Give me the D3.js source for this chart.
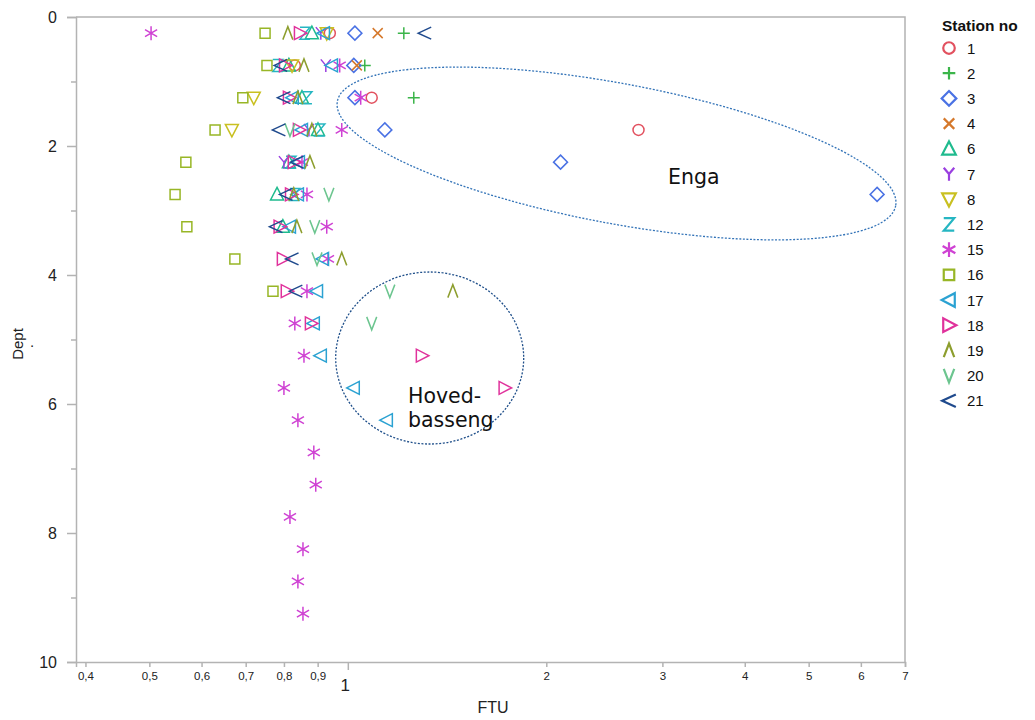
<!DOCTYPE html>
<html>
<head>
<meta charset="utf-8">
<script src="https://cdn.jsdelivr.net/npm/d3@7"></script>
<style>
  body { margin: 0; background: #fff; }
  svg { display: block; }
  .axis path, .axis line { stroke: #b3b3b3; stroke-width: 1.5; }
</style>
</head>
<body>
<svg id="chart" width="1035" height="720"></svg>
<script>
// station numbers, in legend order
var stations = [1, 2, 3, 4, 6, 7, 8, 12, 15, 16, 17, 18, 19, 20, 21]

// [depth, FTU] per station
var st1  = [[0.25,0.939],[0.75,0.831],[1.25,1.087],[1.75,2.76]]
var st2  = [[0.25,1.216],[0.75,1.061],[1.25,1.259]]
var st3  = [[0.25,1.025],[0.75,1.021],[1.25,1.025],[1.75,1.138],[2.25,2.102],[2.75,6.35]]
var st4  = [[0.25,1.11],[0.75,1.032]]
var st6  = [[0.25,0.882],[0.75,0.814],[1.25,0.852],[1.75,0.901],[2.25,0.814],[2.75,0.781],[3.25,0.797]]
var st7  = [[0.25,0.91],[0.75,0.926],[1.75,0.873],[2.25,0.800]]
var st8  = [[0.25,0.929],[0.75,0.823],[1.25,0.720],[1.75,0.667]]
var st12 = [[0.25,0.861],[0.75,0.783],[1.25,0.867],[1.75,0.907],[2.25,0.820],[2.75,0.831]]
var st15 = [[0.25,0.503],[0.75,0.972],[1.25,1.046],[1.75,0.979],[2.25,0.852],[2.75,0.867],[3.25,0.929],
            [3.75,0.933],[4.25,0.867],[4.75,0.831],[5.25,0.858],[5.75,0.800],[6.25,0.840],[6.75,0.888],
            [7.25,0.894],[7.75,0.817],[8.25,0.855],[8.75,0.840],[9.25,0.855]]
var st16 = [[0.25,0.749],[0.75,0.754],[1.25,0.693],[1.75,0.629],[2.25,0.568],[2.75,0.547],[3.25,0.570],[3.75,0.674],[4.25,0.770]]
var st17 = [[0.25,0.92],[0.75,0.946],[1.25,0.825],[1.75,0.852],[2.25,0.843],[2.75,0.840],[3.25,0.817],
            [3.75,0.917],[4.25,0.898],[4.75,0.888],[5.25,0.910],[5.75,1.021],[6.25,1.146]]
var st18 = [[0.25,0.846],[0.75,0.803],[1.25,0.814],[1.75,0.843],[2.25,0.828],[2.75,0.820],[3.25,0.788],
            [3.75,0.797],[4.25,0.808],[4.75,0.879],[5.25,1.295],[5.75,1.729]]
var st19 = [[0.25,0.811],[0.75,0.858],[1.25,0.840],[1.75,0.882],[2.25,0.876],[2.75,0.828],[3.25,0.837],[3.75,0.979],[4.25,1.443]]
var st20 = [[1.75,0.817],[2.75,0.936],[3.25,0.891],[3.75,0.898],[4.25,1.158],[4.75,1.087]]
var st21 = [[0.25,1.308],[0.75,0.791],[1.25,0.800],[1.75,0.786],[2.25,0.837],[2.75,0.806],[3.25,0.778],[3.75,0.823],[4.25,0.834]]

var xTicks = [0.4, 0.5, 0.6, 0.7, 0.8, 0.9, 1, 2, 3, 4, 5, 6, 7]
var yTicks = [0, 1, 2, 3, 4, 5, 6, 7, 8, 9, 10]

var series = {1: st1, 2: st2, 3: st3, 4: st4, 6: st6, 7: st7, 8: st8, 12: st12, 15: st15,
              16: st16, 17: st17, 18: st18, 19: st19, 20: st20, 21: st21}

var colors = {1: '#e2515f', 2: '#3bb54a', 3: '#4a72e4', 4: '#d5782b', 6: '#1fbb8e', 7: '#9a3fe0',
              8: '#c9c021', 12: '#26b6c2', 15: '#cf42d3', 16: '#98b626', 17: '#2ba2d2', 18: '#e0329c',
              19: '#8d9e2e', 20: '#6cc58f', 21: '#1f4a8d'}

// marker outlines, scaled by k
function symbolPath(st, k) {
	var p = d3.path()
	function seg(x1, y1, x2, y2) { p.moveTo(x1*k, y1*k); p.lineTo(x2*k, y2*k) }
	function poly(pts) {
		p.moveTo(pts[0][0]*k, pts[0][1]*k)
		pts.slice(1).forEach(function(q) { p.lineTo(q[0]*k, q[1]*k) })
		p.closePath()
	}
	switch (st) {
	case 1: p.arc(0, 0, 5.5*k, 0, 2*Math.PI); break
	case 2: seg(-6,0,6,0); seg(0,-6,0,6); break
	case 3: poly([[0,-7],[7,0],[0,7],[-7,0]]); break
	case 4: seg(-5,-5,5,5); seg(-5,5,5,-5); break
	case 6: poly([[0,-7],[6.5,5.5],[-6.5,5.5]]); break
	case 7: seg(-5,-6,0,0); seg(5,-6,0,0); seg(0,0,0,6.5); break
	case 8: poly([[0,7],[6.5,-5.5],[-6.5,-5.5]]); break
	case 12: p.moveTo(-5*k,-6*k); p.lineTo(5*k,-6*k); p.lineTo(-5*k,6*k); p.lineTo(5*k,6*k); break
	case 15:
		seg(0,-7,0,7)
		seg(-6.06,-3.5,6.06,3.5); seg(-6.06,3.5,6.06,-3.5); break
	case 16: poly([[-5,-5],[5,-5],[5,5],[-5,5]]); break
	case 17: poly([[-7,0],[5.5,-6.5],[5.5,6.5]]); break
	case 18: poly([[7,0],[-5.5,-6.5],[-5.5,6.5]]); break
	case 19: p.moveTo(-5*k,6.5*k); p.lineTo(0,-6.5*k); p.lineTo(5*k,6.5*k); break
	case 20: p.moveTo(-5*k,-6.5*k); p.lineTo(0,6.5*k); p.lineTo(5*k,-6.5*k); break
	case 21: p.moveTo(6.5*k,-6*k); p.lineTo(-6.5*k,0); p.lineTo(6.5*k,6*k); break
	}
	return p.toString()
}

var svg = d3.select('#chart')
var x = d3.scaleLog().domain([0.387, 7]).range([76, 905])
var y = d3.scaleLinear().domain([0, 10]).range([17, 662])

// frame: top and right borders
svg.append('path')
	.attr('d', 'M' + x.range()[0] + ',' + y(0) + 'H' + x.range()[1] + 'V' + y(10))
	.attr('fill', 'none').attr('stroke', '#b3b3b3').attr('stroke-width', 1.5)

// x axis
var xa = svg.append('g').attr('class', 'axis').attr('transform', 'translate(0,' + y(10) + ')')
	.call(d3.axisBottom(x).tickValues(xTicks).tickSizeOuter(0).tickSize(5)
		.tickFormat(function(d) { return String(d).replace('.', ',') }))
xa.selectAll('text')
	.attr('font-family', '"Liberation Sans Narrow", "Arial Narrow", sans-serif')
	.attr('font-size', 11.5).attr('fill', '#222').attr('dy', '0.9em')
xa.selectAll('.tick').filter(function(d) { return d === 1 }).select('text')
	.attr('font-size', 17).attr('dy', '1.25em').attr('dx', -3)
xa.selectAll('.tick').filter(function(d) { return d === 1 }).select('line').attr('y2', 8)

svg.append('text').text('FTU')
	.attr('x', 493).attr('y', 713).attr('text-anchor', 'middle')
	.attr('font-family', '"Liberation Sans Narrow", "Arial Narrow", sans-serif')
	.attr('font-size', 16).attr('fill', '#222')

// y axis, odd depths get a short unlabeled tick
var ya = svg.append('g').attr('class', 'axis').attr('transform', 'translate(' + x.range()[0] + ',0)')
	.call(d3.axisLeft(y).tickValues(yTicks).tickSizeOuter(0).tickSize(9).tickPadding(10)
		.tickFormat(function(d) { return d % 2 ? '' : d }))
ya.selectAll('.tick').filter(function(d) { return d % 2 }).select('line').attr('x2', -5)
ya.selectAll('text')
	.attr('font-family', '"Liberation Sans", Arial, sans-serif')
	.attr('font-size', 16).attr('fill', '#222')

svg.append('text').text('Dept')
	.attr('transform', 'translate(23,344) rotate(-90)').attr('text-anchor', 'middle')
	.attr('font-family', '"Liberation Sans", Arial, sans-serif')
	.attr('font-size', 15).attr('fill', '#222')
svg.append('text').text('.').attr('x', 30).attr('y', 347)
	.attr('font-family', '"Liberation Sans", Arial, sans-serif')
	.attr('font-size', 15).attr('fill', '#222')

// annotation ellipses, centres in data units
var enga = {ftu: 2.556, depth: 2.116, rx: 284, ry: 70, rot: 10.6}
var hoved = {ftu: 1.331, depth: 5.287, rx: 94, ry: 86, rot: 0}
svg.append('ellipse')
	.attr('transform', 'translate(' + x(enga.ftu) + ',' + y(enga.depth) + ') rotate(' + enga.rot + ')')
	.attr('rx', enga.rx).attr('ry', enga.ry)
	.attr('fill', 'none').attr('stroke', '#3474b8').attr('stroke-width', 1.3).attr('stroke-dasharray', '2,1.6')
svg.append('ellipse')
	.attr('cx', x(hoved.ftu)).attr('cy', y(hoved.depth))
	.attr('rx', hoved.rx).attr('ry', hoved.ry)
	.attr('fill', 'none').attr('stroke', '#1f4f8a').attr('stroke-width', 1.3).attr('stroke-dasharray', '2,1.6')

var noteFont = '"DejaVu Sans", Verdana, sans-serif'
svg.append('text').text('Enga').attr('x', 668).attr('y', 184)
	.attr('font-family', noteFont).attr('font-size', 20.5).attr('fill', '#111')
svg.append('text').attr('x', 408).attr('y', 403)
	.attr('font-family', noteFont).attr('font-size', 20.5).attr('fill', '#111')
	.selectAll('tspan').data(['Hoved-', 'basseng']).join('tspan')
	.attr('x', 408).attr('dy', function(d, i) { return i ? 24 : 0 }).text(function(d) { return d })

// points
stations.forEach(function(st) {
	svg.append('g').selectAll('path').data(series[st]).join('path')
		.attr('transform', function(d) { return 'translate(' + x(d[1]) + ',' + y(d[0]) + ')' })
		.attr('d', symbolPath(st, 1))
		.attr('fill', 'none').attr('stroke', colors[st]).attr('stroke-width', 1.5)
})

// legend
var lg = svg.append('g').attr('font-family', '"Liberation Sans", Arial, sans-serif')
lg.append('text').text('Station no').attr('x', 942).attr('y', 31)
	.attr('font-size', 15.5).attr('font-weight', 'bold').attr('fill', '#111')
var item = lg.selectAll('g.item').data(stations).join('g').attr('class', 'item')
	.attr('transform', function(d, i) { return 'translate(949,' + (48 + i*25.2) + ')' })
item.append('path').attr('d', function(d) { return symbolPath(d, 1.05) })
	.attr('fill', 'none').attr('stroke', function(d) { return colors[d] }).attr('stroke-width', 2.2)
item.append('text').text(function(d) { return d }).attr('x', 18).attr('y', 5.5)
	.attr('font-size', 15).attr('fill', '#111')
</script>
</body>
</html>
